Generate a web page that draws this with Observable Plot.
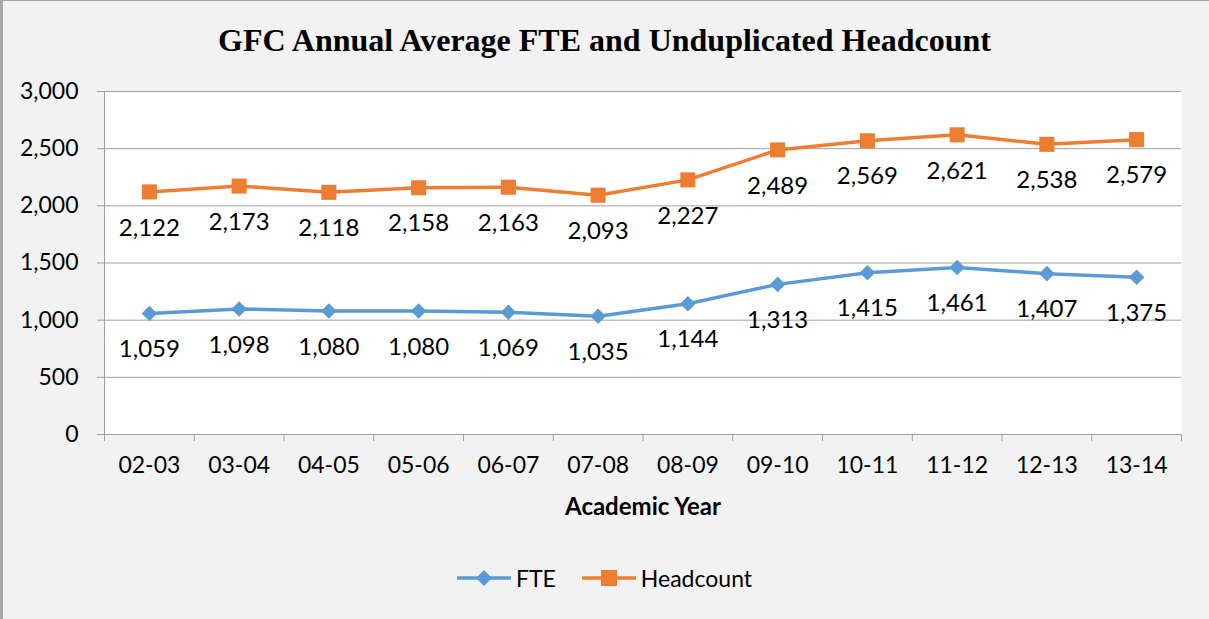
<!DOCTYPE html>
<html>
<head>
<meta charset="utf-8">
<script src="https://cdn.jsdelivr.net/npm/d3@7"></script>
<script src="https://cdn.jsdelivr.net/npm/@observablehq/plot@0.6"></script>
<style>
  html, body { margin: 0; padding: 0; background: #f2f2f2; }
  #wrap { position: relative; width: 1209px; height: 619px; background: #f2f2f2; overflow: hidden;
          box-shadow: inset 3px 1px 0 #a6a6a6; }
  #title { position: absolute; left: 0; top: 21px; width: 1209px; text-align: center;
           font-family: "Liberation Serif", "Times New Roman", serif; font-weight: bold; font-size: 32px; line-height: 38px; color: #000; }
  #chart { position: absolute; left: 0; top: 60px; }
  #legend { position: absolute; left: 0; top: 560px; width: 1209px; height: 36px; display: flex; justify-content: center; align-items: center;
            font-family: Lato, sans-serif; font-size: 23px; color: #000; }
  .item { display: flex; align-items: center; }
  .item svg { margin-right: 5px; }
</style>
</head>
<body>
<div id="wrap">
  <div id="title">GFC Annual Average FTE and Unduplicated Headcount</div>
  <div id="chart"></div>
  <div id="legend"></div>
</div>
<script>
const years = ["02-03","03-04","04-05","05-06","06-07","07-08","08-09","09-10","10-11","11-12","12-13","13-14"];
const fte = [1059, 1098, 1080, 1080, 1069, 1035, 1144, 1313, 1415, 1461, 1407, 1375];
const headcount = [2122, 2173, 2118, 2158, 2163, 2093, 2227, 2489, 2569, 2621, 2538, 2579];
const yTicks = [0, 500, 1000, 1500, 2000, 2500, 3000];
const seriesNames = ["FTE", "Headcount"];
const colors = ["#5b9bd5", "#ed7d31"];

const rows = years.map((y, i) => ({i, year: y, fte: fte[i], head: headcount[i]}));
const idx = d3.range(years.length);
const boundaries = d3.range(years.length + 1).map(i => i - 0.5);
const fmt = d3.format(",");

const chart = Plot.plot({
  width: 1209,
  height: 480,
  marginLeft: 104,
  marginRight: 28,
  marginTop: 31,
  marginBottom: 106,
  style: {background: "transparent", fontFamily: "Lato, sans-serif", fontSize: "23px", color: "#000", overflow: "visible"},
  x: {type: "linear", domain: [-0.5, years.length - 0.5], label: null},
  y: {domain: [0, 3000], label: null},
  marks: [
    Plot.frame({fill: "white", stroke: null}),
    Plot.gridY(yTicks, {stroke: "#a0a0a0", strokeOpacity: 1, strokeWidth: 1}),
    Plot.ruleX([-0.5], {stroke: "#a0a0a0", strokeWidth: 1}),
    Plot.ruleY([0], {stroke: "#a0a0a0", strokeWidth: 1}),
    Plot.axisY({ticks: yTicks, tickFormat: fmt, tickSize: 7, tickPadding: 19, stroke: "#a0a0a0", label: null, fill: "#000"}),
    Plot.axisX({ticks: boundaries, tickFormat: () => "", tickSize: 7, stroke: "#a0a0a0", label: null}),
    Plot.axisX({ticks: idx, tickFormat: i => years[i], tickSize: 0, tickPadding: 22, label: null, fill: "#000"}),
    Plot.text(["Academic Year"], {frameAnchor: "bottom", lineAnchor: "middle", dy: 73, fontWeight: "bold", fontSize: 24, fill: "#000"}),
    Plot.line(rows, {x: "i", y: "head", stroke: colors[1], strokeWidth: 3.5}),
    Plot.line(rows, {x: "i", y: "fte", stroke: colors[0], strokeWidth: 3.5}),
    Plot.dot(rows, {x: "i", y: "head", symbol: "square", r: 8.5, fill: colors[1], stroke: null}),
    Plot.dot(rows, {x: "i", y: "fte", symbol: "diamond2", r: 7, fill: colors[0], stroke: null}),
    Plot.text(rows, {x: "i", y: "head", text: d => fmt(d.head), dy: 36, fontSize: 24, fill: "#000"}),
    Plot.text(rows, {x: "i", y: "fte", text: d => fmt(d.fte), dy: 36, fontSize: 24, fill: "#000"})
  ]
});
document.getElementById("chart").appendChild(chart);

// legend
const legend = document.getElementById("legend");
const shapes = [
  '<polygon points="27,2 35,10 27,18 19,10" fill="' + colors[0] + '"/>',
  '<rect x="19" y="2" width="16" height="16" fill="' + colors[1] + '"/>'
];
seriesNames.forEach((name, k) => {
  const item = document.createElement("div");
  item.className = "item";
  item.style.marginRight = k === 0 ? "26px" : "0";
  item.innerHTML = '<svg width="54" height="20"><line x1="1" y1="10" x2="53" y2="10" stroke="' + colors[k] + '" stroke-width="3.5" stroke-linecap="round"/>' + shapes[k] + '</svg><span>' + name + '</span>';
  legend.appendChild(item);
});
</script>
</body>
</html>
